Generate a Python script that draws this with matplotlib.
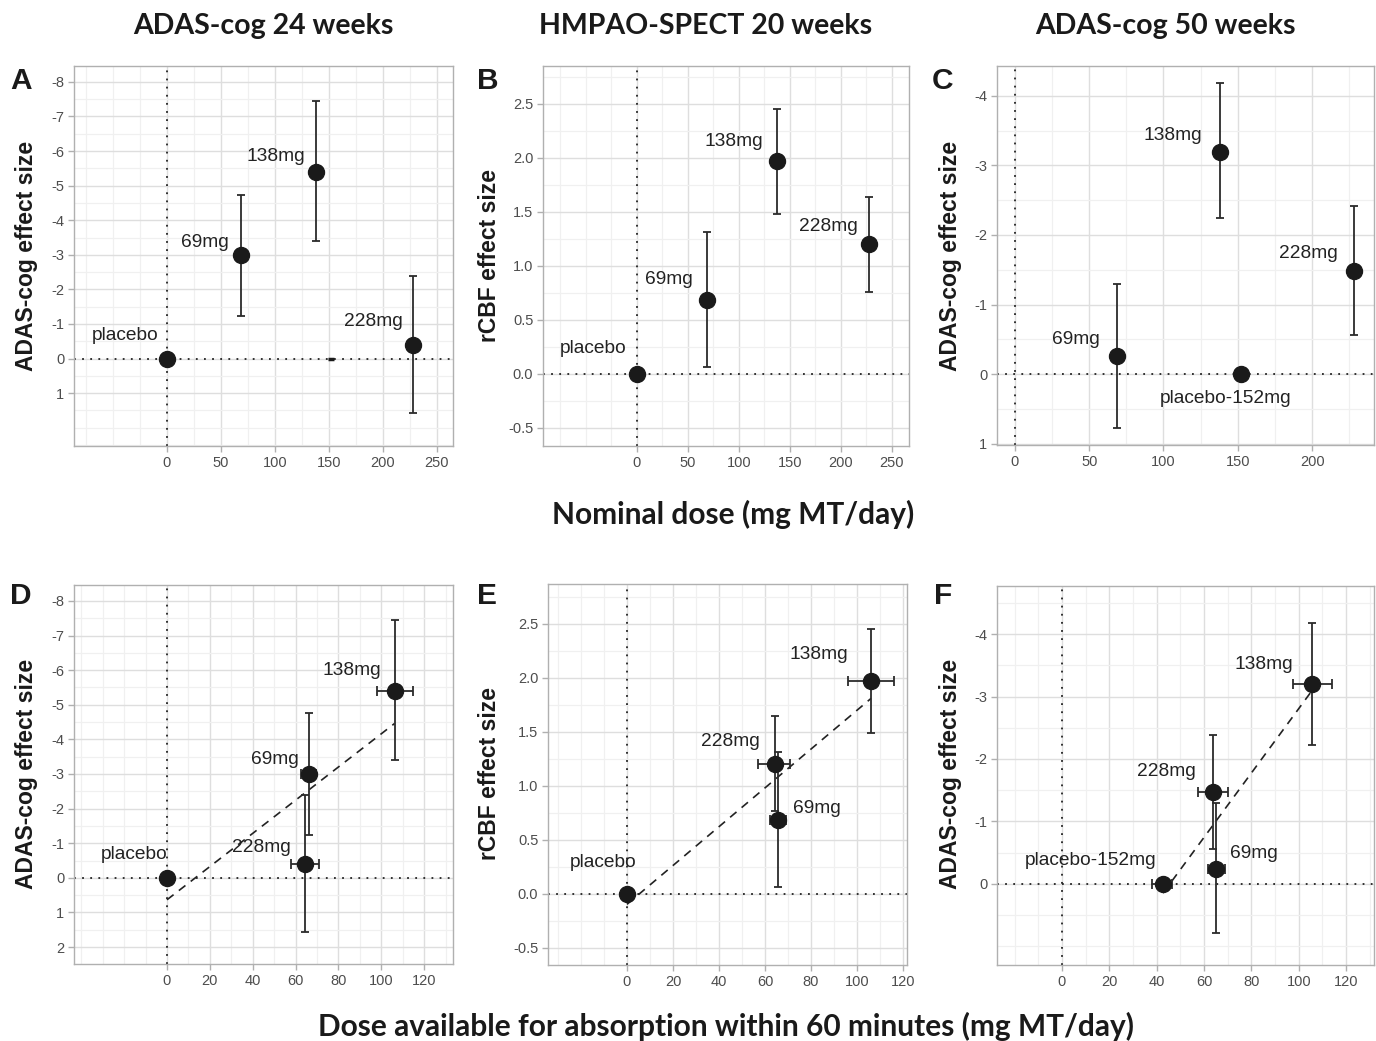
import numpy as np
import matplotlib
matplotlib.use("Agg")
import matplotlib.pyplot as plt

plt.rcParams['font.family'] = ['Liberation Sans', 'DejaVu Sans']
plt.rcParams['axes.unicode_minus'] = False

W, H = 1376, 1041
DPI = 100

# ---------------- data ----------------
labels_std = ['placebo', '69mg', '138mg', '228mg']
labels_c = ['placebo-152mg', '69mg', '138mg', '228mg']

# A: nominal dose vs ADAS-cog 24 weeks
a_dose = [0, 69, 138, 228]
a_eff = [0.0, -3.0, -5.40, -0.40]
a_lo = [0.0, -4.74, -7.44, -2.38]
a_hi = [0.0, -1.23, -3.39, 1.57]
a_hidden_dose = [152]
a_hidden_eff = [0.0]

# B: nominal dose vs rCBF 20 weeks
b_dose = [0, 69, 138, 228]
b_eff = [0.0, 0.685, 1.97, 1.20]
b_lo = [0.0, 0.06, 1.48, 0.76]
b_hi = [0.0, 1.31, 2.45, 1.64]

# C: nominal dose vs ADAS-cog 50 weeks
c_dose = [152, 69, 138, 228]
c_eff = [0.0, -0.26, -3.20, -1.48]
c_lo = [0.0, -1.30, -4.19, -2.41]
c_hi = [0.0, 0.78, -2.24, -0.56]

# D: available dose vs ADAS-cog 24 weeks
d_dose = [0, 66.2, 106.2, 64.3]
d_dose_lo = [0, 62.7, 98.0, 57.8]
d_dose_hi = [0, 69.7, 115.0, 71.0]
d_eff = [0.0, -3.0, -5.41, -0.40]
d_lo = [0.0, -4.75, -7.46, -2.39]
d_hi = [0.0, -1.23, -3.39, 1.56]

# E: available dose vs rCBF
e_dose = [0, 65.8, 106.1, 64.5]
e_dose_lo = [0, 62.2, 96.0, 57.1]
e_dose_hi = [0, 69.1, 116.2, 70.9]
e_eff = [0.0, 0.685, 1.975, 1.20]
e_lo = [0.0, 0.06, 1.49, 0.77]
e_hi = [0.0, 1.31, 2.45, 1.645]

# F: available dose vs ADAS-cog 50 weeks
f_dose = [42.7, 65.1, 105.8, 64.0]
f_dose_lo = [38.2, 61.5, 97.4, 57.4]
f_dose_hi = [46.6, 69.0, 114.0, 70.2]
f_eff = [0.0, -0.24, -3.20, -1.47]
f_lo = [0.0, -1.29, -4.18, -2.39]
f_hi = [0.0, 0.79, -2.23, -0.55]

# tick labels
xt_nom = [0, 50, 100, 150, 200, 250]
xt_nom_c = [0, 50, 100, 150, 200]
xt_avail = [0, 20, 40, 60, 80, 100, 120]
yt_adas24 = [-8, -7, -6, -5, -4, -3, -2, -1, 0, 1]
yt_adas24_d = [-8, -7, -6, -5, -4, -3, -2, -1, 0, 1, 2]
yt_rcbf = [-0.5, 0.0, 0.5, 1.0, 1.5, 2.0, 2.5]
yt_adas50 = [-4, -3, -2, -1, 0, 1]
yt_adas50_f = [-4, -3, -2, -1, 0]

# ---------------- layout / style ----------------
fig = plt.figure(figsize=(W / DPI, H / DPI), dpi=DPI)

def add_ax(l, t, r, b):
    return fig.add_axes([l / W, 1 - b / H, (r - l) / W, (b - t) / H])

MK = '#1a1a1a'
EC = '#2b2b2b'
TICKC = '#4d4d4d'
BORDER = '#b0b0b0'

def style(ax, xlim, ylim, xticks, yticks, xminor, yminor, yfmt=None):
    ax.set_xlim(*xlim)
    ax.set_ylim(*ylim)
    ax.set_xticks(xticks)
    ax.set_xticklabels([str(int(v)) for v in xticks])
    ax.set_yticks(yticks)
    if yfmt is None:
        ax.set_yticklabels([str(int(v)) for v in yticks])
    else:
        ax.set_yticklabels([yfmt % v for v in yticks])
    lo_x, hi_x = sorted(xlim)
    lo_y, hi_y = sorted(ylim)
    mx = np.arange(np.ceil(lo_x / xminor) * xminor, hi_x, xminor)
    mx = [v for v in mx if not any(abs(v - t) < 1e-9 for t in xticks)]
    my = np.arange(np.ceil(lo_y / yminor) * yminor, hi_y, yminor)
    my = [v for v in my if not any(abs(v - t) < 1e-9 for t in yticks)]
    ax.set_xticks(mx, minor=True)
    ax.set_yticks(my, minor=True)
    ax.grid(which='major', color='#dedede', lw=1.0, zorder=0)
    ax.grid(which='minor', color='#f0f0f0', lw=0.9, zorder=0)
    ax.set_axisbelow(True)
    ax.tick_params(which='major', length=4, width=1, color=BORDER,
                   labelsize=10.5, labelcolor=TICKC, pad=3)
    ax.tick_params(which='minor', length=0)
    for s in ax.spines.values():
        s.set_color(BORDER)
        s.set_linewidth(1.0)
    ax.axhline(0, color='#222222', lw=1.3, ls=(0, (1, 3.5)), zorder=1)
    ax.axvline(0, color='#222222', lw=1.3, ls=(0, (1, 3.5)), zorder=1)

def draw(ax, x, y, ylo, yhi, labels, offsets, xlo=None, xhi=None, fit=False):
    x = np.array(x, float); y = np.array(y, float)
    yerr = np.abs(np.array([y - np.array(ylo), np.array(yhi) - y]))
    ax.errorbar(x, y, yerr=yerr, fmt='none', ecolor=EC, elinewidth=1.3,
                capsize=3.2, capthick=1.3, zorder=3)
    if xlo is not None:
        xerr = np.abs(np.array([x - np.array(xlo), np.array(xhi) - x]))
        m = xerr.sum(axis=0) > 0
        ax.errorbar(x[m], y[m], xerr=xerr[:, m], fmt='none', ecolor=EC,
                    elinewidth=1.3, capsize=3.6, capthick=1.3, zorder=3)
    if fit:
        k, c = np.polyfit(x, y, 1)
        xx = np.array([x.min(), x.max()])
        ax.plot(xx, k * xx + c, color='#222222', lw=1.2, ls=(0, (5, 4)), zorder=2)
    ax.plot(x, y, 'o', color=MK, ms=11.5, zorder=4)
    for xi, yi, lab, (dx, dy, ha) in zip(x, y, labels, offsets):
        ax.annotate(lab, (xi, yi), xytext=(dx, dy), textcoords='offset pixels',
                    ha=ha, va='center', fontsize=13.8, color='#222222', zorder=5)

# Panel A
axA = add_ax(74, 66, 453, 446)
style(axA, (-86, 265), (2.53, -8.46), xt_nom, yt_adas24, 25, 0.5)
draw(axA, a_dose, a_eff, a_lo, a_hi, labels_std,
     [(-8, 23, 'right'), (-13, 12, 'right'), (-11, 15, 'right'), (-10, 23, 'right')])
axA.plot(a_hidden_dose, a_hidden_eff, '_', color=MK, ms=5, mew=2.5, zorder=4)

# Panel B
axB = add_ax(543, 66, 909, 446)
style(axB, (-92, 267), (-0.67, 2.85), xt_nom, yt_rcbf, 25, 0.25, yfmt='%.1f')
draw(axB, b_dose, b_eff, b_lo, b_hi, labels_std,
     [(-10, 25, 'right'), (-14, 20, 'right'), (-14, 20, 'right'), (-11, 18, 'right')])

# Panel C
axC = add_ax(997, 66, 1374, 445)
style(axC, (-12, 241.6), (1.02, -4.43), xt_nom_c, yt_adas50, 25, 0.5)
draw(axC, c_dose, c_eff, c_lo, c_hi, labels_c,
     [(-15, -24, 'center'), (-18, 16, 'right'), (-18, 16, 'right'), (-16, 18, 'right')])

# Panel D
axD = add_ax(74, 585, 453, 964)
style(axD, (-43.4, 133.5), (2.49, -8.46), xt_avail, yt_adas24_d, 10, 0.5)
draw(axD, d_dose, d_eff, d_lo, d_hi, labels_std,
     [(1, 23, 'right'), (-10, 14, 'right'), (-13, 20, 'right'), (-14, 16, 'right')],
     d_dose_lo, d_dose_hi, fit=True)

# Panel E
axE = add_ax(548, 584, 907, 965)
style(axE, (-34.3, 121.7), (-0.66, 2.87), xt_avail, yt_rcbf, 10, 0.25, yfmt='%.1f')
draw(axE, e_dose, e_eff, e_lo, e_hi, labels_std,
     [(10, 31, 'right'), (15, 11, 'left'), (-23, 26, 'right'), (-16, 23, 'right')],
     e_dose_lo, e_dose_hi, fit=True)

# Panel F
axF = add_ax(997, 586, 1374, 965)
style(axF, (-27.4, 131.8), (1.3, -4.77), xt_avail, yt_adas50_f, 10, 0.5)
draw(axF, f_dose, f_eff, f_lo, f_hi, labels_c,
     [(-7, 23, 'right'), (14, 15, 'left'), (-19, 20, 'right'), (-18, 21, 'right')],
     f_dose_lo, f_dose_hi, fit=True)

# ---------------- texts ----------------
def ftext(x, y, s, **kw):
    fig.text(x / W, 1 - y / H, s, **kw)

ylab_kw = dict(rotation=90, ha='center', va='center', fontsize=16.5,
               fontweight='bold', color='#1a1a1a')
ftext(27, 256, 'ADAS-cog effect size', **ylab_kw)
ftext(489, 256, 'rCBF effect size', **ylab_kw)
ftext(951, 256, 'ADAS-cog effect size', **ylab_kw)
ftext(27, 774, 'ADAS-cog effect size', **ylab_kw)
ftext(489, 774, 'rCBF effect size', **ylab_kw)
ftext(950, 774, 'ADAS-cog effect size', **ylab_kw)

let_kw = dict(ha='left', va='center', fontsize=21.5, fontweight='bold', color='#1a1a1a')
ftext(10, 81, 'A', **let_kw)
ftext(477, 81, 'B', **let_kw)
ftext(932, 81, 'C', **let_kw)
ftext(10, 596, 'D', **let_kw)
ftext(477, 596, 'E', **let_kw)
ftext(934, 596, 'F', **let_kw)

tit_kw = dict(ha='center', va='center', fontweight='bold',
              color='#1a1a1a', family=['Lato', 'DejaVu Sans'])
ftext(263, 26, 'ADAS-cog 24 weeks', fontsize=20.5, **tit_kw)
ftext(706, 26, 'HMPAO-SPECT 20 weeks', fontsize=20.5, **tit_kw)
ftext(1165, 26, 'ADAS-cog 50 weeks', fontsize=20.5, **tit_kw)
ftext(733, 514, 'Nominal dose (mg MT/day)', fontsize=21.5, **tit_kw)
ftext(726, 1026, 'Dose available for absorption within 60 minutes (mg MT/day)',
      fontsize=21.5, **tit_kw)

fig.savefig('out.png', dpi=DPI)
